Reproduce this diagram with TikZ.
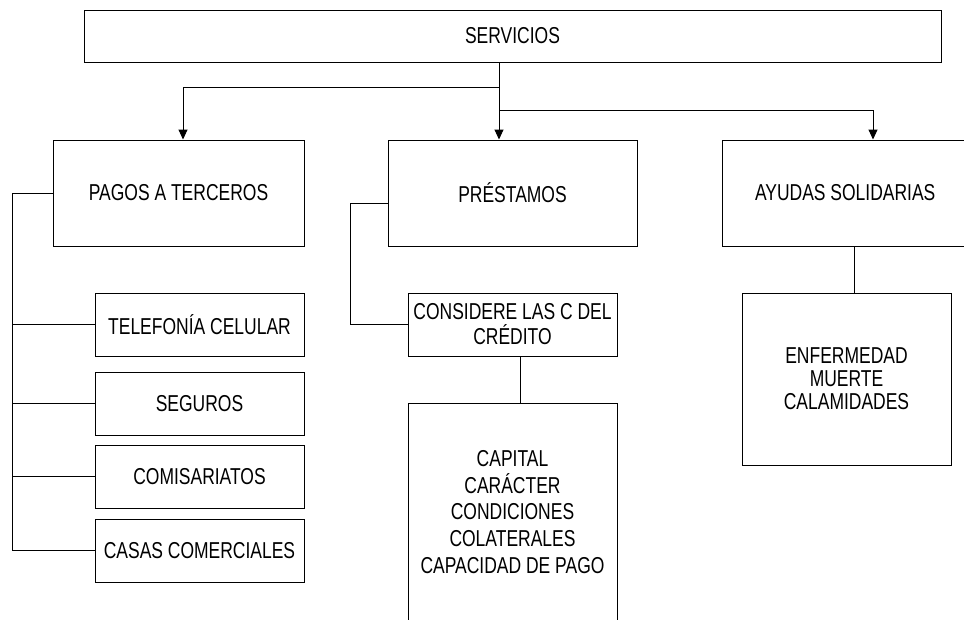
\documentclass[tikz,border=0pt]{standalone}
\usepackage{fontspec}
\setmainfont{Liberation Sans}[FakeStretch=0.76]
\usetikzlibrary{arrows.meta}
\tikzset{
  caja/.style={draw, line width=1pt, align=center, inner sep=0pt, font=\fontsize{23}{26}\selectfont},
  flecha/.style={-{Triangle[width=9pt,length=10pt]}, line width=1pt}
}
\begin{document}
\begin{tikzpicture}[x=1pt, y=-1pt]
\clip (0,0) rectangle (964,619);
\node[caja, minimum width=857pt, minimum height=52pt] (servicios) at (512.5,36){SERVICIOS};
\node[caja, minimum width=251pt, minimum height=106pt] (pagos) at (178.5,193){PAGOS A TERCEROS};
\node[caja, minimum width=249pt, minimum height=106pt] (prestamos) at (512.5,193){PRÉSTAMOS};
\node[caja, minimum width=268pt, minimum height=106pt, inner xsep=33pt, text width=202pt, align=flush left] (ayudas) at (856,193){AYUDAS SOLIDARIAS};
\node[caja, minimum width=209pt, minimum height=63pt] (telefonia) at (199.5,324.5){TELEFONÍA CELULAR};
\node[caja, minimum width=209pt, minimum height=63pt] (seguros) at (199.5,403.5){SEGUROS};
\node[caja, minimum width=209pt, minimum height=63pt] (comisariatos) at (199.5,476.5){COMISARIATOS};
\node[caja, minimum width=209pt, minimum height=63pt] (casas) at (199.5,550.5){CASAS COMERCIALES};
\node[caja, minimum width=209pt, minimum height=63pt, font=\fontsize{23}{25}\selectfont] (considere) at (512.5,324.5){CONSIDERE LAS C DEL\\CRÉDITO};
\node[caja, minimum width=209pt, minimum height=218pt, font=\fontsize{23}{26.7}\selectfont] (capital) at (512.5,512){CAPITAL\\CARÁCTER\\CONDICIONES\\COLATERALES\\CAPACIDAD DE PAGO};
\node[caja, minimum width=209pt, minimum height=172pt, font=\fontsize{23}{23}\selectfont] (enfermedad) at (846.5,379){ENFERMEDAD\\MUERTE\\CALAMIDADES};
\coordinate (tronco) at (499,62);
\coordinate (rama1) at (499,87);
\coordinate (rama2) at (499,110);
\coordinate (bus1) at (12,193);
\draw[flecha](tronco) -- (tronco |- prestamos.north);
\draw[flecha](rama1) -| ([xshift=4.5pt]pagos.north);
\draw[flecha](rama2) -| ([xshift=17pt]ayudas.north);
\draw[line width=1pt](pagos.west) -- (bus1) |- (casas.west);
\draw[line width=1pt](bus1 |- telefonia.west) -- (telefonia.west);
\draw[line width=1pt](bus1 |- seguros.west) -- (seguros.west);
\draw[line width=1pt](bus1 |- comisariatos.west) -- (comisariatos.west);
\draw[line width=1pt]([yshift=-10pt]prestamos.west) -- ++(-37,0) |- (considere.west);
\draw[line width=1pt]([xshift=7.5pt]considere.south) -- ([xshift=7.5pt]capital.north);
\draw[line width=1pt]([xshift=7.5pt]enfermedad.north) -- ([xshift=7.5pt]enfermedad.north |- ayudas.south);
\end{tikzpicture}
\end{document}
